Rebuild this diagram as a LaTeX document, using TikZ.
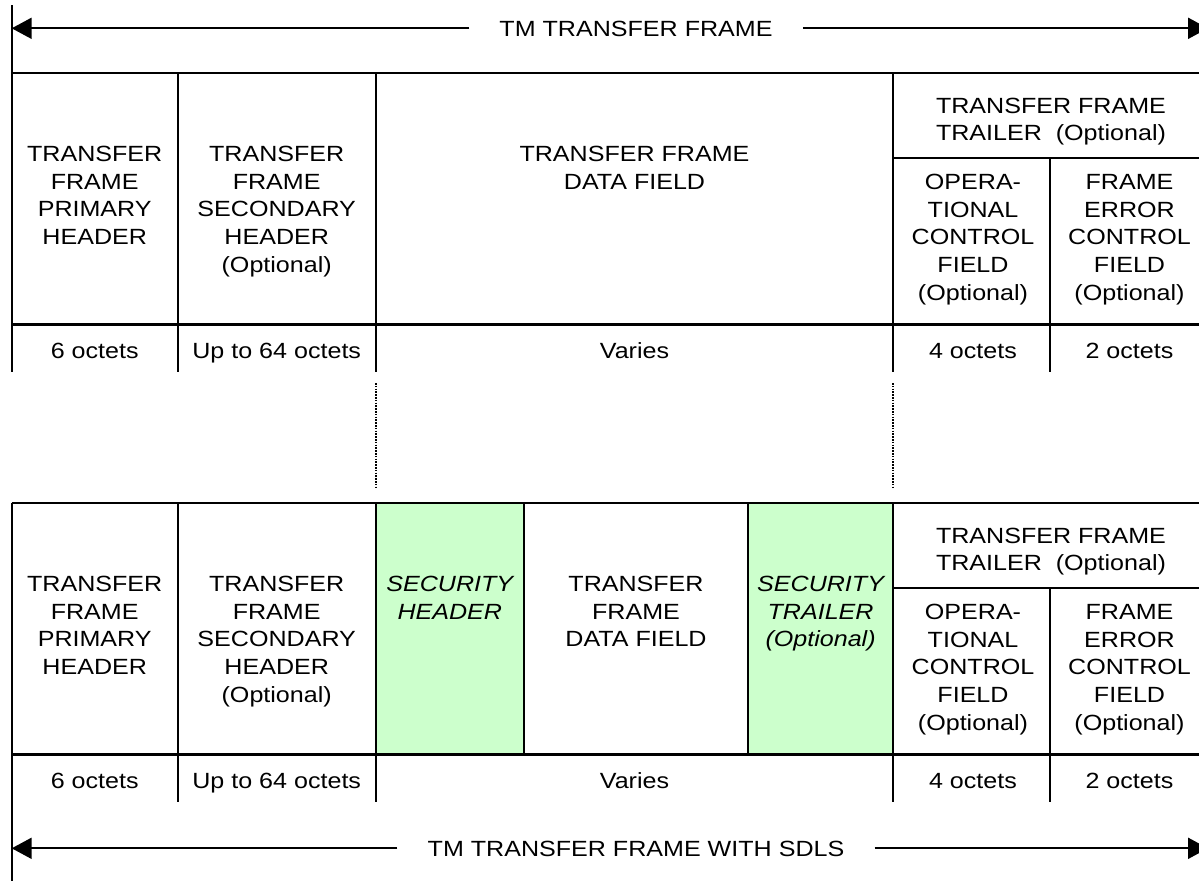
\documentclass[tikz,border=0pt]{standalone}
\usepackage{fontspec}
\setmainfont{Liberation Sans}[FakeStretch=1.14]
\usetikzlibrary{arrows.meta}
\definecolor{secgreen}{HTML}{CCFFCC}
\newcommand\cellt[1]{\begin{tabular}[t]{@{}c@{}}#1\end{tabular}}
\begin{document}
\begin{tikzpicture}[x=1pt,y=-1pt,
  rule/.style={line width=2.2pt},
  dotline/.style={line width=2pt, dash pattern=on 1.6pt off 1.2pt},
  arr/.style={line width=2pt, -{Triangle[length=20pt,width=21pt]}},
  txt/.style={inner sep=0pt, anchor=base, font=\fontsize{22}{27.6}\selectfont},
  sectxt/.style={txt, font=\fontsize{22}{27.6}\selectfont\itshape},
  headtxt/.style={txt, inner xsep=30pt}]
\useasboundingbox (0,0) rectangle (1199,881);
\clip (0,0) rectangle (1199,881);

% green security fields
\fill[secgreen] (375.7,502.7) rectangle (524,754.5);
\fill[secgreen] (748,502.7) rectangle (893.3,754.5);

% ---------- top table ----------
\draw[rule] (11.7,5) -- (11.7,371.7);
\draw[rule] (11.7,72.7) -- (1210,72.7);
\draw[rule] (893.3,158.3) -- (1210,158.3);
\draw[rule] (11.7,324.5) -- (1210,324.5);
\draw[rule] (177.7,72.7) -- (177.7,371.7);
\draw[rule] (375.7,72.7) -- (375.7,371.7);
\draw[rule] (893.3,72.7) -- (893.3,371.7);
\draw[rule] (1050,158.3) -- (1050,371.7);

% dotted guides
\draw[dotline] (375.7,383) -- (375.7,488);
\draw[dotline] (893.3,383) -- (893.3,488);

% ---------- bottom table ----------
\draw[rule] (11.7,502.7) -- (11.7,881);
\draw[rule] (11.7,502.7) -- (1210,502.7);
\draw[rule] (893.3,588.3) -- (1210,588.3);
\draw[rule] (11.7,754.5) -- (1210,754.5);
\draw[rule] (177.7,502.7) -- (177.7,801.7);
\draw[rule] (375.7,502.7) -- (375.7,801.7);
\draw[rule] (524,502.7) -- (524,754.5);
\draw[rule] (748,502.7) -- (748,754.5);
\draw[rule] (893.3,502.7) -- (893.3,801.7);
\draw[rule] (1050,588.3) -- (1050,801.7);

% ---------- top arrow ----------
\node[headtxt] (t1) at (636,36.2) {TM TRANSFER FRAME};
\coordinate (tl) at (11.7,28.3);
\coordinate (tr) at (1208,28.3);
\draw[arr] (t1.west |- tl) -- (tl);
\draw[arr] (t1.east |- tr) -- (tr);

% ---------- top table texts ----------
\node[txt] (a1) at (94.7,161.7) {\cellt{TRANSFER\\FRAME\\PRIMARY\\HEADER}};
\node[txt] (a2) at (276.7,161.7) {\cellt{TRANSFER\\FRAME\\SECONDARY\\HEADER\\(Optional)}};
\node[txt] (a3) at (634.5,161.7) {\cellt{TRANSFER FRAME\\DATA FIELD}};
\node[txt] (a4) at (1051,113.3) {\cellt{TRANSFER FRAME\\TRAILER\ \ (Optional)}};
\node[txt] (a5) at (973,189.6) {\cellt{OPERA-\\TIONAL\\CONTROL\\FIELD\\(Optional)}};
\node[txt] (a6) at (1129.5,189.6) {\cellt{FRAME\\ERROR\\CONTROL\\FIELD\\(Optional)}};

\node[txt] (r1) at (94.7,358.3) {6 octets};
\node[txt] (r2) at (276.7,358.3) {Up to 64 octets};
\node[txt] (r3) at (634.5,358.3) {Varies};
\node[txt] (r4) at (973,358.3) {4 octets};
\node[txt] (r5) at (1129.5,358.3) {2 octets};

% ---------- bottom table texts ----------
\node[txt] (b1) at (94.7,591.7) {\cellt{TRANSFER\\FRAME\\PRIMARY\\HEADER}};
\node[txt] (b2) at (276.7,591.7) {\cellt{TRANSFER\\FRAME\\SECONDARY\\HEADER\\(Optional)}};
\node[sectxt] (b3) at (449.8,591.7) {\cellt{SECURITY\\HEADER}};
\node[txt] (b4) at (636,591.7) {\cellt{TRANSFER\\FRAME\\DATA FIELD}};
\node[sectxt] (b5) at (820.6,591.7) {\cellt{SECURITY\\TRAILER\\(Optional)}};
\node[txt] (b6) at (1051,543.3) {\cellt{TRANSFER FRAME\\TRAILER\ \ (Optional)}};
\node[txt] (b7) at (973,619.6) {\cellt{OPERA-\\TIONAL\\CONTROL\\FIELD\\(Optional)}};
\node[txt] (b8) at (1129.5,619.6) {\cellt{FRAME\\ERROR\\CONTROL\\FIELD\\(Optional)}};

\node[txt] (s1) at (94.7,788.3) {6 octets};
\node[txt] (s2) at (276.7,788.3) {Up to 64 octets};
\node[txt] (s3) at (634.5,788.3) {Varies};
\node[txt] (s4) at (973,788.3) {4 octets};
\node[txt] (s5) at (1129.5,788.3) {2 octets};

% ---------- bottom arrow ----------
\node[headtxt] (t2) at (636,856.2) {TM TRANSFER FRAME WITH SDLS};
\coordinate (bl) at (11.7,848.3);
\coordinate (br) at (1208,848.3);
\draw[arr] (t2.west |- bl) -- (bl);
\draw[arr] (t2.east |- br) -- (br);
\end{tikzpicture}
\end{document}
